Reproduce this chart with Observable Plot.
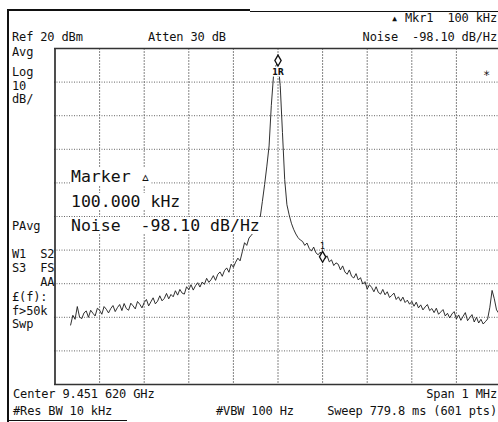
<!DOCTYPE html>
<html><head><meta charset="utf-8">
<script src="https://cdn.jsdelivr.net/npm/d3@7"></script>
<script src="https://cdn.jsdelivr.net/npm/@observablehq/plot@0.6"></script>
<style>
body{margin:0;background:#fff;}
#wrap{position:relative;width:498px;height:422px;overflow:hidden;font-family:"DejaVu Sans Mono",monospace;color:#111;}
#wrap svg{position:absolute;left:0;top:0;}
.t{position:absolute;font-size:12px;line-height:12px;white-space:pre;letter-spacing:-0.15px;color:#111;}
.big{position:absolute;font-size:16.5px;line-height:17px;white-space:pre;background:#fff;padding:0 1px;color:#111;}
.ln{position:absolute;background:#111;}
</style></head><body>
<div id="wrap"></div>
<script>
// Trace: frequency offset from center (kHz) and level (dBm)
const freqKHz = [
-465,-460,-455,-450,-445,-440,-435,-430,-425,-420,-415,-410,-405,-400,-395,-390,-385,-380,-375,-370,
-365,-360,-355,-350,-345,-340,-335,-330,-325,-320,-315,-310,-305,-300,-295,-290,-285,-280,-275,-270,
-265,-260,-255,-250,-245,-240,-235,-230,-225,-220,-215,-210,-205,-200,-195,-190,-185,-180,-175,-170,
-165,-160,-155,-150,-145,-140,-135,-130,-125,-120,-115,-110,-105,-100,-95,-90,-85,-80,-75,-70,
-65,-60,-55,-50,-45,-40,-35,-30,-25,-20,-15,-10,-5,0,5,10,15,20,25,30,
35,40,45,50,55,60,65,70,75,80,85,90,95,100,105,110,115,120,125,130,
135,140,145,150,155,160,165,170,175,180,185,190,195,200,205,210,215,220,225,230,
235,240,245,250,255,260,265,270,275,280,285,290,295,300,305,310,315,320,325,330,
335,340,345,350,355,360,365,370,375,380,385,390,395,400,405,410,415,420,425,430,
435,440,445,450,455,460,465,470,475,480,485,490,495,500];
const levelDbm = [
-62.3,-59.4,-60.6,-56.8,-59.9,-60.4,-58.7,-58.1,-60.0,-57.9,-58.8,-59.6,-57.3,-57.9,-59.1,-56.8,-57.6,-58.7,-57.4,-56.5,
-58.3,-57.1,-56.2,-58.0,-55.9,-57.4,-57.9,-55.8,-56.6,-57.5,-55.3,-56.1,-57.2,-55.6,-54.7,-56.6,-55.4,-54.2,-56.0,-55.2,
-53.6,-55.1,-54.4,-52.9,-54.5,-53.2,-53.9,-52.1,-53.4,-51.7,-52.8,-53.1,-50.9,-51.8,-50.3,-51.9,-50.6,-49.7,-51.0,-49.5,
-50.2,-48.4,-49.6,-48.8,-47.6,-49.0,-47.2,-46.5,-47.8,-46.1,-45.3,-46.6,-44.2,-45.1,-43.6,-42.4,-43.2,-40.5,-37.8,-38.6,
-36.4,-35.6,-34.8,-34.0,-32.5,-30.3,-25.5,-20.5,-15.0,-9.0,3.0,12.0,14.8,16.0,9.0,-5.0,-19.0,-26.5,-29.5,-32.0,
-33.8,-35.2,-36.3,-37.0,-37.4,-38.6,-37.9,-39.5,-40.3,-39.1,-40.8,-41.4,-40.6,-42.0,-42.6,-41.7,-43.5,-42.9,-44.6,-43.8,
-44.2,-45.9,-44.7,-46.5,-47.2,-45.9,-47.8,-48.3,-47.0,-48.9,-48.2,-50.1,-49.4,-51.6,-50.3,-51.1,-52.4,-50.9,-52.6,-53.1,
-51.7,-53.3,-52.4,-54.1,-53.5,-52.8,-54.7,-53.9,-55.2,-54.0,-55.6,-54.9,-56.1,-55.3,-56.7,-55.5,-57.2,-56.3,-57.8,-56.9,
-56.2,-58.0,-57.4,-58.6,-57.3,-59.1,-58.4,-57.7,-59.6,-58.8,-60.2,-59.0,-58.3,-60.5,-59.3,-60.9,-59.7,-58.6,-61.0,-60.1,
-59.2,-61.4,-60.0,-61.7,-60.6,-62.0,-61.3,-60.5,-57.0,-52.0,-54.5,-57.8,-58.8,-59.2];

// Markers
const markerKHz = [0, 100];
const markerDbm = [16.4, -42.0];
const markerLabels = ["1R", "1"];

// Grid divisions
const xGridKHz = [-400,-300,-200,-100,0,100,200,300,400];
const yGridDbm = [-70,-60,-50,-40,-30,-20,-10,0,10];

const trace = freqKHz.map((f, i) => ({f, db: levelDbm[i]}));
const markers = markerKHz.map((f, i) => ({f, db: markerDbm[i], label: markerLabels[i]}));

const chart = Plot.plot({
  width: 498, height: 422,
  marginTop: 48, marginBottom: 38, marginLeft: 54, marginRight: 0,
  x: {domain: [-500, 500], range: [54.5, 500.5], axis: null},
  y: {domain: [-80, 20], axis: null},
  style: {background: "transparent", overflow: "visible"},
  marks: [
    Plot.ruleX(xGridKHz, {stroke: "#777", strokeWidth: 0.9, strokeDasharray: "2,1"}),
    Plot.ruleY(yGridDbm, {stroke: "#666", strokeWidth: 1, strokeDasharray: "1,1.5"}),
    Plot.ruleX([-500], {stroke: "#222", strokeWidth: 1.6}),
    Plot.ruleY([-80, 20], {stroke: "#333", strokeWidth: 1.4}),
    Plot.line(trace, {x: "f", y: "db", stroke: "#1a1a1a", strokeWidth: 0.9}),
    Plot.dot(markers, {x: "f", y: "db", symbol: "diamond", r: 3.3, stroke: "#111", strokeWidth: 1.3, fill: "white"}),
    Plot.text(markers.filter(d => d.label === "1R"), {x: "f", y: "db", text: "label", dy: 12, fontSize: 8, fontWeight: "bold", fill: "#111", stroke: "white", strokeWidth: 3, paintOrder: "stroke", fontFamily: "DejaVu Sans"}),
    Plot.text(markers.filter(d => d.label === "1"), {x: "f", y: "db", text: "label", dy: -10, fontSize: 8, fill: "#111", fontFamily: "DejaVu Sans"})
  ]
});
const wrap = document.getElementById("wrap");
wrap.appendChild(chart);

// Peripheral annotation text (baseline y, x or right)
const labels = [
  {t: "\u25B4 Mkr1  100 kHz", b: 22, r: 1},
  {t: "Ref 20 dBm", b: 41, x: 12},
  {t: "Atten 30 dB", b: 41, x: 148},
  {t: "Noise  -98.10 dB/Hz", b: 41, r: 1},
  {t: "Avg", b: 56, x: 12},
  {t: "Log", b: 76, x: 12},
  {t: "10", b: 90, x: 12},
  {t: "dB/", b: 103, x: 12},
  {t: "PAvg", b: 230, x: 12},
  {t: "W1  S2", b: 258, x: 12},
  {t: "S3  FS", b: 272, x: 12},
  {t: "    AA", b: 286, x: 12},
  {t: "\u00A3(f):", b: 301, x: 12},
  {t: "f>50k", b: 315, x: 12},
  {t: "Swp", b: 328, x: 12},
  {t: "Center 9.451 620 GHz", b: 398, x: 13},
  {t: "Span 1 MHz", b: 398, r: 1},
  {t: "#Res BW 10 kHz", b: 415, x: 13},
  {t: "#VBW 100 Hz", b: 415, x: 216},
  {t: "Sweep 779.8 ms (601 pts)", b: 415, r: 1},
  {t: "\u2217", b: 77, x: 483}
];
for (const l of labels) {
  const d = document.createElement("div");
  d.className = "t";
  d.textContent = l.t;
  d.style.top = (l.b - 10) + "px";
  if (l.r !== undefined) d.style.right = l.r + "px"; else d.style.left = l.x + "px";
  wrap.appendChild(d);
}
const bigLines = [
  {t: "Marker \u25B5", b: 182},
  {t: "100.000 kHz", b: 207},
  {t: "Noise  -98.10 dB/Hz", b: 231}
];
for (const l of bigLines) {
  const d = document.createElement("div");
  d.className = "big";
  d.textContent = l.t;
  d.style.top = (l.b - 14) + "px";
  d.style.left = "70px";
  wrap.appendChild(d);
}
// scan frame lines
const lines = [
  {x: 7, y: 10, w: 2, h: 412},
  {x: 7, y: 9, w: 243, h: 2},
  {x: 250, y: 11, w: 248, h: 1},
  {x: 7, y: 420, w: 120, h: 1}
];
for (const l of lines) {
  const d = document.createElement("div");
  d.className = "ln";
  Object.assign(d.style, {left: l.x + "px", top: l.y + "px", width: l.w + "px", height: l.h + "px"});
  wrap.appendChild(d);
}
</script>
</body></html>
